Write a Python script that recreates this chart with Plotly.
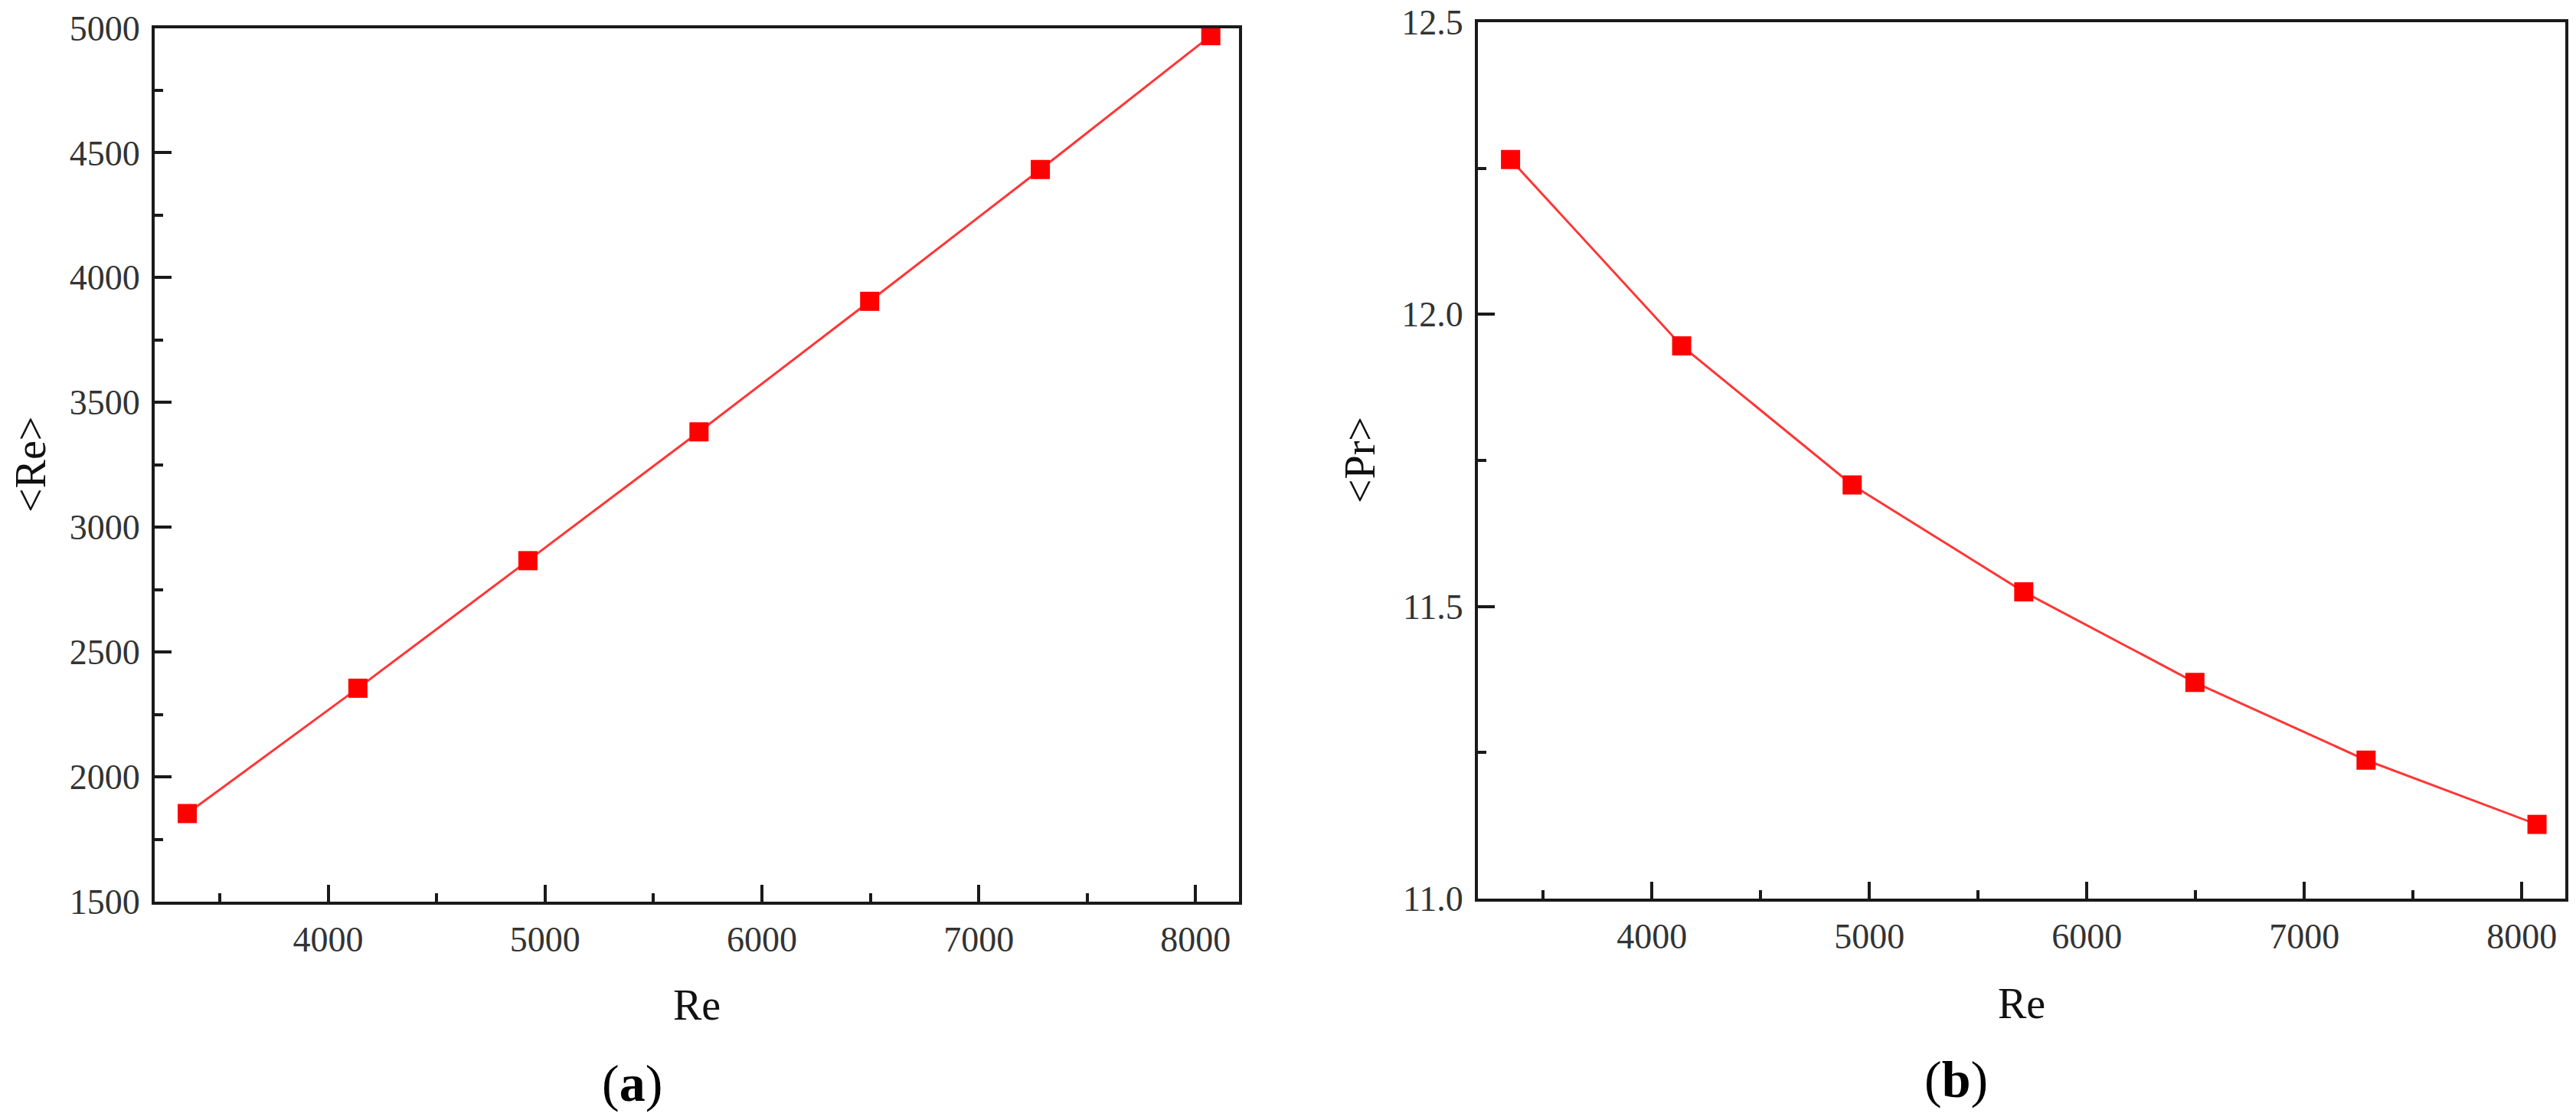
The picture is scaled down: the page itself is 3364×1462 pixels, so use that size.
import plotly.graph_objects as go

# ---- data ----
re_values = [3350, 4137, 4921, 5710, 6497, 7284, 8070]
mean_re = [1853, 2355, 2866, 3382, 3905, 4433, 4969]
mean_pr = [12.265, 11.946, 11.708, 11.525, 11.370, 11.237, 11.127]

x_ticks = [4000, 5000, 6000, 7000, 8000]
x_minor = [3500, 4500, 5500, 6500, 7500]
re_ticks = [1500, 2000, 2500, 3000, 3500, 4000, 4500, 5000]
re_minor = [1750, 2250, 2750, 3250, 3750, 4250, 4750]
pr_ticks = [11.0, 11.5, 12.0, 12.5]
pr_tick_labels = ["11.0", "11.5", "12.0", "12.5"]
pr_minor = [11.25, 11.75, 12.25]

W, H = 3364, 1462
FONT = "Liberation Serif"
AX = "#1a1a1a"

fig = go.Figure()
for xa, ya, yv in (("x", "y", mean_re), ("x2", "y2", mean_pr)):
    fig.add_trace(go.Scatter(
        x=re_values, y=yv, mode="lines+markers", xaxis=xa, yaxis=ya,
        line=dict(color="#ff3535", width=3),
        marker=dict(symbol="square", size=25, color="#ff0000", line=dict(width=0)),
        showlegend=False, cliponaxis=False))


def fx(p):
    return p / W


def fy(p):
    return 1 - p / H


def axis(dom, rng, tv, tt, minor_vals, anchor, standoff):
    return dict(
        domain=dom, range=rng, anchor=anchor, automargin=False,
        tickmode="array", tickvals=tv, ticktext=tt,
        showgrid=False, zeroline=False,
        showline=True, linecolor=AX, linewidth=4, mirror=True,
        ticks="inside", ticklen=22, tickwidth=4, tickcolor=AX,
        ticklabelstandoff=standoff, ticklabeloverflow="allow",
        tickfont=dict(family=FONT, size=46, color="#333333"),
        minor=dict(tickmode="array", tickvals=minor_vals, ticks="inside",
                   ticklen=11, tickwidth=4, tickcolor=AX, showgrid=False),
    )


fig.update_layout(
    width=W, height=H,
    margin=dict(l=0, r=0, t=0, b=0, autoexpand=False),
    paper_bgcolor="white", plot_bgcolor="white",
    xaxis=axis([fx(202), fx(1618)], [3200, 8200], x_ticks, [str(v) for v in x_ticks], x_minor, "y", 6),
    yaxis=axis([fy(1177), fy(36.5)], [1500, 5000], re_ticks, [str(v) for v in re_ticks], re_minor, "x", 6),
    xaxis2=axis([fx(1930), fx(3350)], [3200, 8200], x_ticks, [str(v) for v in x_ticks], x_minor, "y2", 6),
    yaxis2=axis([fy(1173), fy(29)], [11.0, 12.5], pr_ticks, pr_tick_labels, pr_minor, "x2", 6),
)

TITLE_FONT = dict(family=FONT, size=56, color="#111111")
CAP_FONT = dict(family=FONT, size=68, color="#000000")
annots = [
    dict(text="Re", x=fx(910), y=fy(1312), font=TITLE_FONT),
    dict(text="Re", x=fx(2640), y=fy(1310), font=TITLE_FONT),
    dict(text="&lt;Re&gt;", x=fx(40), y=fy(607), font=TITLE_FONT, textangle=-90),
    dict(text="&lt;Pr&gt;", x=fx(1776), y=fy(600), font=TITLE_FONT, textangle=-90),
    dict(text="(<b>a</b>)", x=fx(825), y=fy(1414), font=CAP_FONT),
    dict(text="(<b>b</b>)", x=fx(2554), y=fy(1409), font=CAP_FONT),
]
for a in annots:
    a.update(xref="paper", yref="paper", showarrow=False, xanchor="center", yanchor="middle")
fig.update_layout(annotations=annots)

fig.write_html("out.html", config={"displayModeBar": False},
               post_script="document.body.style.margin='0px';document.body.style.overflow='hidden';")
